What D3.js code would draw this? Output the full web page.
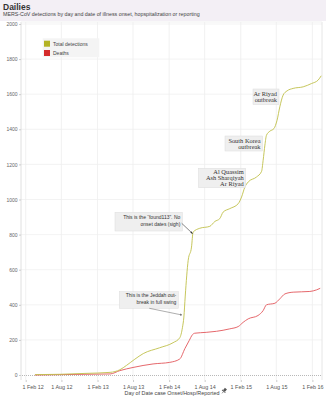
<!DOCTYPE html>
<html><head><meta charset="utf-8">
<script src="https://cdn.jsdelivr.net/npm/d3@7/dist/d3.min.js"></script>
<style>body{margin:0;background:#fff}svg{display:block}</style>
</head><body>
<script>
const title = "Dailies";
const subtitle = "MERS-CoV detections by day and date of illness onset, hopspitalization or reporting";
const xAxisTitle = "Day of Date case Onset/Hosp/Reported";
const seriesNames = ["Total detections", "Deaths"];
const yTicks = [0,200,400,600,800,1000,1200,1400,1600,1800,2000];
const xTickDates = ["2012-02-01","2012-08-01","2013-02-01","2013-08-01","2014-02-01","2014-08-01","2015-02-01","2015-08-01","2016-02-01"];
const xTickLabels = ["1 Feb 12","1 Aug 12","1 Feb 13","1 Aug 13","1 Feb 14","1 Aug 14","1 Feb 15","1 Aug 15","1 Feb 16"];

const detDates = ["2012-03-19","2012-07-24","2012-11-29","2013-04-06","2013-05-26","2013-06-29","2013-08-10","2013-09-22","2013-12-14","2014-02-21","2014-03-27","2014-04-10","2014-04-17","2014-04-24","2014-05-09","2014-05-26","2014-06-03","2014-07-07","2014-08-27","2014-09-22","2014-10-17","2014-11-03","2014-12-07","2015-01-19","2015-02-05","2015-02-22","2015-03-11","2015-04-22","2015-05-18","2015-05-26","2015-06-04","2015-06-12","2015-06-29","2015-07-20","2015-08-05","2015-08-19","2015-09-05","2015-09-25","2015-10-26","2015-12-16","2016-01-28","2016-03-01","2016-03-17"];
const detValues = [2,4,9,15,30,55,90,122,155,184,212,272,330,450,653,729,814,836,847,875,891,928,948,976,1014,1071,1100,1128,1160,1223,1310,1366,1389,1404,1452,1528,1595,1619,1633,1642,1661,1680,1705];

const deathDates = ["2012-03-19","2012-07-24","2012-11-29","2013-04-06","2013-05-26","2013-08-01","2013-11-11","2014-02-04","2014-03-27","2014-04-22","2014-05-14","2014-05-31","2014-06-11","2014-08-09","2014-09-30","2014-12-07","2015-01-19","2015-02-13","2015-03-11","2015-04-30","2015-05-26","2015-06-12","2015-07-25","2015-08-19","2015-09-14","2015-10-26","2016-01-19","2016-02-22","2016-03-12"];
const deathValues = [0,2,4,6,25,43,63,72,91,150,196,230,238,243,249,263,276,300,320,339,367,400,409,434,462,472,476,485,494];

const annotations = [
  {lines:["Ar Riyad","outbreak"], serif:true, box:[253,89,279,104.5]},
  {lines:["South Korea","outbreak"], serif:true, box:[225,136,262.5,151]},
  {lines:["Al Quassim","Ash Sharqiyah","Ar Riyad"], serif:true, box:[198.5,168.3,245.7,187.7]},
  {lines:["This is the \u201cfound113\u201d. No","onset dates (sigh)"], serif:false, box:[115,212.3,182.3,231], arrow:[181.7,223.3,192.5,233.5], arrowColor:"#333"},
  {lines:["This is the Jeddah out-","break in full swing"], serif:false, box:[119.3,291.7,178.3,308.3], arrow:[149.3,308.3,182,315], arrowColor:"#777"}
];

const W = 326, H = 400;
const svg = d3.select("body").append("svg").attr("width", W).attr("height", H);
const defs = svg.append("defs");
["#333","#777"].forEach((c,i)=>{
  defs.append("marker").attr("id","ah"+i).attr("viewBox","0 0 10 10").attr("refX",9).attr("refY",5)
    .attr("markerWidth",4).attr("markerHeight",4).attr("orient","auto")
    .append("path").attr("d","M0,0L10,5L0,10z").attr("fill",c);
});

const sans = "'Liberation Sans', Arial, sans-serif";
const serif = "'Liberation Serif', 'Times New Roman', serif";

// header
svg.append("rect").attr("x",0).attr("y",0).attr("width",W).attr("height",21).attr("fill","#f3eff5");
svg.append("text").attr("x",3).attr("y",9.5).text(title)
  .attr("font-family",sans).attr("font-weight","bold").attr("font-size",8.5).attr("fill","#333");
svg.append("text").attr("x",3).attr("y",16.3).text(subtitle)
  .attr("font-family",sans).attr("font-size",5.3).attr("fill","#444");

const pane = {l:21, r:322, t:22, b:380};
const x = d3.scaleTime().domain([new Date(2012,0,8), new Date(2016,2,21)]).range([pane.l, pane.r]);
const y = d3.scaleLinear().domain([0,2000]).range([375,24]);
const parse = d3.timeParse("%Y-%m-%d");

// gridlines
const g = svg.append("g");
g.selectAll(".hg").data(yTicks.filter(d=>d>0)).join("line")
  .attr("x1",pane.l).attr("x2",pane.r).attr("y1",d=>y(d)).attr("y2",d=>y(d))
  .attr("stroke","#f0f0f0").attr("stroke-width",0.8);
g.selectAll(".vg").data(xTickDates).join("line")
  .attr("x1",d=>x(parse(d))).attr("x2",d=>x(parse(d))).attr("y1",pane.t).attr("y2",pane.b)
  .attr("stroke","#eeeeee").attr("stroke-width",0.8);
// frame
g.append("line").attr("x1",pane.l).attr("x2",pane.l).attr("y1",pane.t).attr("y2",pane.b).attr("stroke","#d8d8d8").attr("stroke-width",0.8);
g.append("line").attr("x1",pane.r).attr("x2",pane.r).attr("y1",pane.t).attr("y2",pane.b).attr("stroke","#e0e0e0").attr("stroke-width",0.8);
g.append("line").attr("x1",pane.l).attr("x2",pane.r).attr("y1",pane.t).attr("y2",pane.t).attr("stroke","#eeeeee").attr("stroke-width",0.8);
// zero line
g.append("line").attr("x1",pane.l-1).attr("x2",pane.r).attr("y1",y(0)+0.5).attr("y2",y(0)+0.5)
  .attr("stroke","#999").attr("stroke-width",0.7).attr("stroke-dasharray","1,1");

// y axis labels
const yAxis = d3.axisLeft(y).tickValues(yTicks).tickSize(2).tickPadding(1.5).tickFormat(d3.format("d"));
const ya = svg.append("g").attr("transform",`translate(${pane.l},0)`).call(yAxis);
ya.select(".domain").remove();
ya.selectAll(".tick line").attr("stroke","#ccc");
ya.selectAll("text").attr("font-family",sans).attr("font-size",5).attr("fill","#666");

// x axis
const xAxis = d3.axisBottom(x).tickValues(xTickDates.map(parse)).tickSize(2).tickPadding(3)
  .tickFormat((d,i)=>xTickLabels[i]);
const xa = svg.append("g").attr("transform",`translate(0,${pane.b})`).call(xAxis);
xa.select(".domain").remove();
xa.selectAll(".tick line").attr("stroke","#ccc");
xa.selectAll("text").attr("font-family",sans).attr("font-size",5.4).attr("fill","#555");
xa.selectAll(".tick").each(function(){
  const t = d3.select(this).select("text");
  const tx = +d3.select(this).attr("transform").match(/translate\(([-\d.]+)/)[1];
  const w = t.node().getComputedTextLength();
  if (tx - w/2 < pane.l + 1.5) t.attr("x", pane.l + 1.5 + w/2 - tx);
});
svg.append("text").attr("x",172).attr("y",394.5).attr("text-anchor","middle").text(xAxisTitle)
  .attr("font-family",sans).attr("font-size",5.4).attr("fill","#444");
// pin icon
const pin = svg.append("g").attr("transform","translate(224,391) rotate(40)");
pin.append("rect").attr("x",-1.3).attr("y",-3).attr("width",2.6).attr("height",3).attr("fill","#555");
pin.append("rect").attr("x",-2.2).attr("y",0).attr("width",4.4).attr("height",0.9).attr("fill","#555");
pin.append("line").attr("x1",0).attr("x2",0).attr("y1",0.9).attr("y2",3).attr("stroke","#555").attr("stroke-width",0.6);

// lines
const line = d3.line().x(d=>x(d[0])).y(d=>y(d[1])).curve(d3.curveMonotoneX);
const detData = detDates.map((d,i)=>[parse(d), detValues[i]]);
const deathData = deathDates.map((d,i)=>[parse(d), deathValues[i]]);
svg.append("path").attr("d",line(deathData)).attr("fill","none").attr("stroke","#e2575b").attr("stroke-width",0.9);
svg.append("path").attr("d",line(detData)).attr("fill","none").attr("stroke","#c0c04a").attr("stroke-width",0.9);

// legend
svg.append("rect").attr("x",42.7).attr("y",38.3).attr("width",56.6).attr("height",19).attr("fill","#f4f4f4");
const colors = ["#b3b325","#d42a2a"];
seriesNames.forEach((n,i)=>{
  svg.append("rect").attr("x",44).attr("y",40.7+i*9.3).attr("width",6).attr("height",6).attr("fill",colors[i]);
  svg.append("text").attr("x",53).attr("y",45.6+i*9.3).text(n)
    .attr("font-family",sans).attr("font-size",5).attr("fill","#444");
});

// annotations
annotations.forEach((a,k)=>{
  const [x0,y0,x1,y1] = a.box;
  svg.append("rect").attr("x",x0).attr("y",y0).attr("width",x1-x0).attr("height",y1-y0)
    .attr("fill","#efefef").attr("stroke","#dcdcdc").attr("stroke-width",0.5);
  const fs = a.serif ? 6.4 : 5;
  const lh = a.serif ? 6.1 : 7;
  const n = a.lines.length;
  const top = (y0+y1)/2 - (n*lh)/2 + fs*0.8;
  a.lines.forEach((l,i)=>{
    svg.append("text").attr("x",x1-2).attr("y",top + i*lh).attr("text-anchor","end").text(l)
      .attr("font-family",a.serif?serif:sans).attr("font-size",fs).attr("fill","#333");
  });
  if (a.arrow){
    svg.append("line").attr("x1",a.arrow[0]).attr("y1",a.arrow[1]).attr("x2",a.arrow[2]).attr("y2",a.arrow[3])
      .attr("stroke",a.arrowColor).attr("stroke-width",0.6).attr("marker-end",`url(#ah${a.arrowColor==="#333"?0:1})`);
  }
});
</script>
</body></html>
